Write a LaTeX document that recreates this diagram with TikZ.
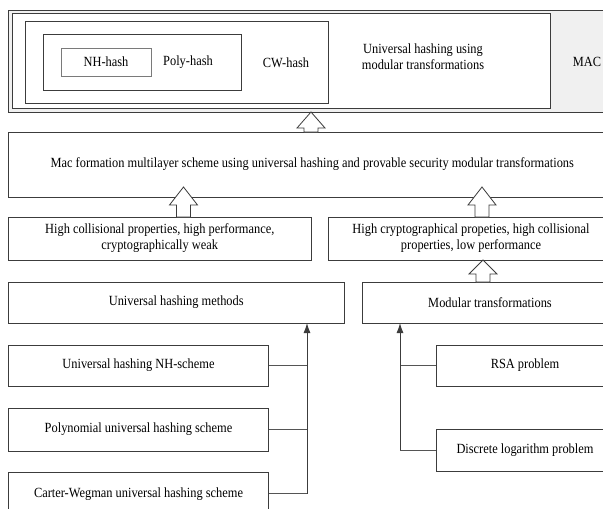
\documentclass[tikz,border=0pt]{standalone}
\usepackage{fontspec}
\setmainfont{Liberation Serif}[FakeStretch=0.885]
\usetikzlibrary{arrows.meta,calc}
\definecolor{bord}{HTML}{3C3C3C}
\definecolor{lightbord}{HTML}{7A7A7A}
\definecolor{conn}{HTML}{555555}
\definecolor{framefill}{HTML}{F0F0F0}
\tikzset{
  box/.style={draw=bord, line width=0.8pt, fill=white, inner sep=0pt, outer sep=0pt, align=center},
  lbl/.style={inner sep=0pt, align=center},
  connline/.style={draw=conn, line width=0.8pt},
  trunk/.style={draw=bord, line width=1pt, -{Latex[length=10pt,width=7pt]}},
  blockarr/.style={draw=bord, line width=0.8pt, fill=white, line join=miter},
}
% #1 options, #2 name, #3 x1, #4 y1, #5 x2, #6 y2, #7 text
\newcommand\mkbox[7]{%
  \node[box,#1,minimum width={(#5-#3)*1pt},minimum height={(#6-#4)*1pt}] (#2) at ({(#3+#5)/2},{(#4+#6)/2}) {#7};}
% #1 bottom point, #2 tip point, #3 head length
\newcommand\blockup[3]{%
  \draw[blockarr] let \p1=#1, \p2=#2 in
    (\x1-7pt,\y1) -- (\x1-7pt,\y2-#3) -- (\x1-14pt,\y2-#3) -- (\x1,\y2)
    -- (\x1+14pt,\y2-#3) -- (\x1+7pt,\y2-#3) -- (\x1+7pt,\y1) -- cycle;}
\begin{document}
\begin{tikzpicture}[x=1pt,y=-1pt,font=\fontsize{14}{16}\selectfont]
\useasboundingbox (0,0) rectangle (603,509);
\fill[white] (0,0) rectangle (603,509);
\clip (0,0) rectangle (603,509);

% top frame
\mkbox{fill=framefill}{frame}{8}{10}{625}{112}{}
\mkbox{}{uhmt}{12.5}{13.5}{550}{108}{}
\mkbox{}{cw}{25}{21}{328}{103}{}
\mkbox{}{poly}{43.5}{34}{241}{90}{}
\mkbox{draw=lightbord}{nh}{61}{48}{151}{76}{NH-hash}
\node[lbl] (polyt) at (188,62) {Poly-hash};
\node[lbl] (cwt) at (286,63) {CW-hash};
\node[lbl] (uhmtt) at (423,57) {Universal hashing using\\modular transformations};
\node[lbl] (mact) at (587,62) {MAC};

% middle
\mkbox{}{mac}{8.5}{132}{616}{197}{Mac formation multilayer scheme using universal hashing and provable security modular transformations}
\mkbox{}{hc}{8.5}{217}{311}{260}{High collisional properties, high performance,\\cryptographically weak}
\mkbox{}{hcr}{328}{217}{614}{260}{High cryptographical propeties, high collisional\\properties, low performance}
\mkbox{}{uhm}{8.5}{282}{344}{323}{Universal hashing methods}
\mkbox{}{mt}{362}{282}{618}{323}{Modular transformations}

% bottom
\mkbox{}{nhs}{8.5}{345}{268.5}{386}{Universal hashing NH-scheme}
\mkbox{}{pol}{8.5}{408}{268.5}{451}{Polynomial universal hashing scheme}
\mkbox{}{cws}{8.5}{472}{268.5}{516}{Carter-Wegman universal hashing scheme}
\mkbox{}{rsa}{436}{345}{614}{386}{RSA problem}
\mkbox{}{dlp}{436}{429}{614}{471}{Discrete logarithm problem}

% block arrows
\coordinate (a1) at (311,0);
\coordinate (a2) at (183.5,0);
\coordinate (a3) at (482,0);
\coordinate (a4) at (483,0);
\blockup{(mac.north -| a1)}{(frame.south -| a1)}{16pt}
\blockup{(hc.north -| a2)}{($(mac.south -| a2)+(0,-10)$)}{18pt}
\blockup{(hcr.north -| a3)}{($(mac.south -| a3)+(0,-10)$)}{18pt}
\blockup{(mt.north -| a4)}{(hcr.south -| a4)}{14pt}

% tree connectors
\coordinate (jl) at (307,0);
\coordinate (jr) at (400,0);
\draw[connline] (nhs.east) -- (nhs.east -| jl);
\draw[connline] (pol.east) -- (pol.east -| jl);
\draw[connline] ($(cws.east)+(0,-0.5)$) -- ($(cws.east -| jl)+(0,-0.5)$);
\draw[trunk] ($(cws.east -| jl)+(0,-0.5)$) -- (uhm.south -| jl);
\draw[connline] (rsa.west) -- (rsa.west -| jr);
\draw[connline] (dlp.west) -- (dlp.west -| jr);
\draw[trunk] (dlp.west -| jr) -- (mt.south -| jr);
\end{tikzpicture}
\end{document}
